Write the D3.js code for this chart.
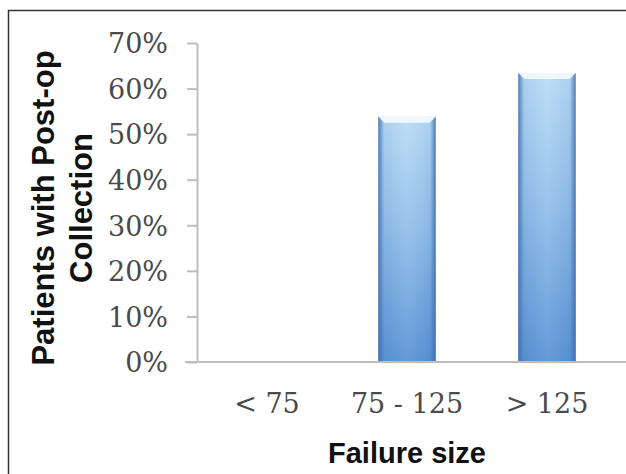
<!DOCTYPE html>
<html>
<head>
<meta charset="utf-8">
<script src="https://cdn.jsdelivr.net/npm/d3@7"></script>
<style>
  html, body { margin: 0; padding: 0; background: #fff; }
  svg { display: block; }
</style>
</head>
<body>
<svg id="chart" width="626" height="474"></svg>
<script>
const categories = ["< 75", "75 - 125", "> 125"];
const values = [0, 53.8, 63.4];
const yTicks = [0, 10, 20, 30, 40, 50, 60, 70];
const yTitleLines = ["Patients with Post-op", "Collection"];
const xTitle = "Failure size";

const svg = d3.select("#chart");

// outer frame (only top and left are visible in the reference)
svg.append("rect").attr("x", 8.5).attr("y", 10.5).attr("width", 640).attr("height", 480)
  .attr("fill", "none").attr("stroke", "#333").attr("stroke-width", 1.5);

const defs = svg.append("defs");
const gv = defs.append("linearGradient").attr("id", "barV").attr("x1", 0).attr("y1", 0).attr("x2", 0).attr("y2", 1);
gv.append("stop").attr("offset", "0%").attr("stop-color", "#b9dcf6");
gv.append("stop").attr("offset", "45%").attr("stop-color", "#91bfea");
gv.append("stop").attr("offset", "100%").attr("stop-color", "#5891d5");
const gh = defs.append("linearGradient").attr("id", "barH").attr("x1", 0).attr("y1", 0).attr("x2", 1).attr("y2", 0);
gh.append("stop").attr("offset", "0%").attr("stop-color", "#3f6aa8").attr("stop-opacity", 0.85);
gh.append("stop").attr("offset", "10%").attr("stop-color", "#3f6aa8").attr("stop-opacity", 0.1);
gh.append("stop").attr("offset", "50%").attr("stop-color", "#ffffff").attr("stop-opacity", 0.08);
gh.append("stop").attr("offset", "90%").attr("stop-color", "#3f6aa8").attr("stop-opacity", 0.1);
gh.append("stop").attr("offset", "100%").attr("stop-color", "#3f6aa8").attr("stop-opacity", 0.85);

const x = d3.scaleBand().domain(categories).range([197, 617]).paddingInner(0.59).paddingOuter(0.295);
const y = d3.scaleLinear().domain([0, 70]).range([362, 43]);

// y axis
const yAxis = svg.append("g").attr("transform", "translate(197,0)")
  .call(d3.axisLeft(y).tickValues(yTicks).tickSize(10).tickSizeOuter(0).tickPadding(19).tickFormat(d => d + "%"));
yAxis.select(".domain").attr("stroke", "#bdbdbd").attr("stroke-width", 2);
yAxis.selectAll(".tick line").attr("stroke", "#bdbdbd").attr("stroke-width", 2);
yAxis.selectAll(".tick text").attr("font-family", "'DejaVu Serif', serif").attr("font-size", 27)
  .attr("fill", "#4a4a4a").attr("dy", "0.36em");

// x axis
const xAxis = svg.append("g").attr("transform", "translate(0,362)")
  .call(d3.axisBottom(x).tickSize(0).tickPadding(46));
xAxis.select(".domain").remove();
xAxis.selectAll(".tick text").attr("font-family", "'DejaVu Serif', serif").attr("font-size", 27)
  .attr("fill", "#4a4a4a").attr("dy", "0.2em");

// bars
const bars = svg.append("g").selectAll("g").data(values.map((v, i) => ({c: categories[i], v})).filter(d => d.v > 0))
  .join("g");
bars.append("rect")
  .attr("x", d => x(d.c)).attr("y", d => y(d.v))
  .attr("width", x.bandwidth()).attr("height", d => y(0) - y(d.v))
  .attr("fill", "url(#barV)");
bars.append("rect")
  .attr("x", d => x(d.c)).attr("y", d => y(d.v))
  .attr("width", x.bandwidth()).attr("height", d => y(0) - y(d.v))
  .attr("fill", "url(#barH)");
bars.append("path")
  .attr("d", d => {
    const x0 = x(d.c), x1 = x0 + x.bandwidth(), t = y(d.v), b = 6;
    return `M${x0},${t}L${x1},${t}L${x1 - b},${t + b}L${x0 + b},${t + b}Z`;
  })
  .attr("fill", "#f4fbff").attr("opacity", 0.9);

// baseline
svg.append("line").attr("x1", 185).attr("x2", 626).attr("y1", y(0)).attr("y2", y(0))
  .attr("stroke", "#bdbdbd").attr("stroke-width", 2);

// x title
svg.append("text").attr("x", 407).attr("y", 463).attr("text-anchor", "middle")
  .attr("font-family", "'Liberation Sans', Arial, sans-serif").attr("font-weight", "bold")
  .attr("font-size", 29).attr("fill", "#111").text(xTitle);

// y title
const yt = svg.append("text").attr("transform", "translate(0,208) rotate(-90)")
  .attr("text-anchor", "middle")
  .attr("font-family", "'Liberation Sans', Arial, sans-serif").attr("font-weight", "bold")
  .attr("font-size", 31).attr("fill", "#111");
yTitleLines.forEach((t, i) => yt.append("tspan").attr("x", 0).attr("y", 54 + i * 38).text(t));
</script>
</body>
</html>
